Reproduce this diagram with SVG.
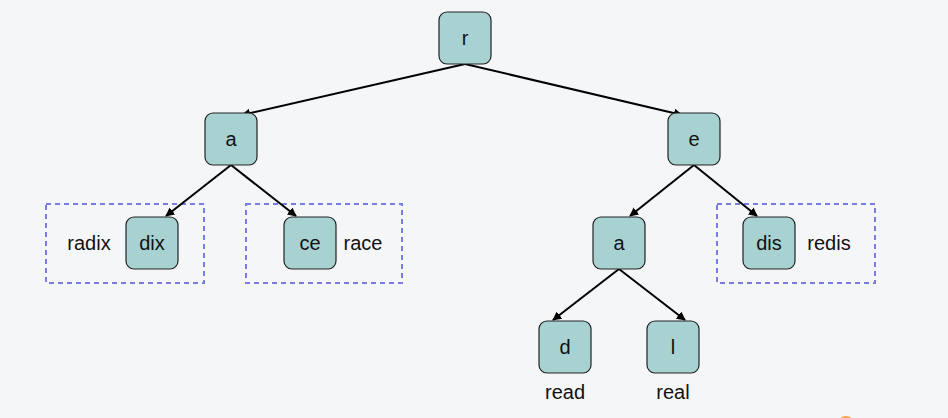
<svg xmlns="http://www.w3.org/2000/svg" width="948" height="418" viewBox="0 0 948 418">
<defs>
<marker id="ah" viewBox="0 0 10 10" refX="9" refY="5" markerWidth="9" markerHeight="9" markerUnits="userSpaceOnUse" orient="auto">
<path d="M0,0 L10,5 L0,10 z" fill="#000"/>
</marker>
<style>
.n{fill:#a8d1d1;stroke:#222;stroke-width:1.2}
.t{font-family:"Liberation Sans",Arial,sans-serif;font-size:20px;fill:#111;text-anchor:middle;dominant-baseline:central}
.e{stroke:#000;stroke-width:2;fill:none;marker-end:url(#ah)}
.g{fill:none;stroke:#7b7be0;stroke-width:2;stroke-dasharray:5 4}
</style>
</defs>
<rect width="948" height="418" fill="#f5f6f8"/>
<circle cx="846" cy="425" r="9" fill="#f0a050"/>
<g id="groups">
<rect class="g" x="46" y="204" width="158" height="79"/>
<rect class="g" x="246" y="204" width="156" height="79"/>
<rect class="g" x="717" y="204" width="158" height="79"/>
</g>
<g id="edges">
<line class="e" x1="465" y1="64" x2="242" y2="115"/>
<line class="e" x1="465" y1="64" x2="682" y2="115"/>
<line class="e" x1="231" y1="165" x2="166" y2="216"/>
<line class="e" x1="231" y1="165" x2="296" y2="216"/>
<line class="e" x1="694" y1="165" x2="630" y2="216"/>
<line class="e" x1="694" y1="165" x2="757" y2="216"/>
<line class="e" x1="619" y1="269" x2="553" y2="320"/>
<line class="e" x1="619" y1="269" x2="685" y2="320"/>
</g>
<g id="node-r"><rect class="n" x="439" y="12" width="52" height="52" rx="8"/><text class="t" x="465" y="38">r</text></g>
<g id="node-a"><rect class="n" x="205" y="113" width="52" height="52" rx="8"/><text class="t" x="231" y="139">a</text></g>
<g id="node-e"><rect class="n" x="668" y="113" width="52" height="52" rx="8"/><text class="t" x="694" y="139">e</text></g>
<g id="node-dix"><rect class="n" x="126" y="217" width="52" height="52" rx="8"/><text class="t" x="152" y="243">dix</text><text class="t" x="89" y="243">radix</text></g>
<g id="node-ce"><rect class="n" x="284" y="217" width="52" height="52" rx="8"/><text class="t" x="310" y="243">ce</text><text class="t" x="363" y="243">race</text></g>
<g id="node-a2"><rect class="n" x="593" y="217" width="52" height="52" rx="8"/><text class="t" x="619" y="243">a</text></g>
<g id="node-dis"><rect class="n" x="743" y="217" width="52" height="52" rx="8"/><text class="t" x="769" y="243">dis</text><text class="t" x="829" y="243">redis</text></g>
<g id="node-d"><rect class="n" x="539" y="321" width="52" height="52" rx="8"/><text class="t" x="565" y="347">d</text><text class="t" x="565" y="392">read</text></g>
<g id="node-l"><rect class="n" x="647" y="321" width="52" height="52" rx="8"/><text class="t" x="673" y="347">l</text><text class="t" x="673" y="392">real</text></g>
</svg>
